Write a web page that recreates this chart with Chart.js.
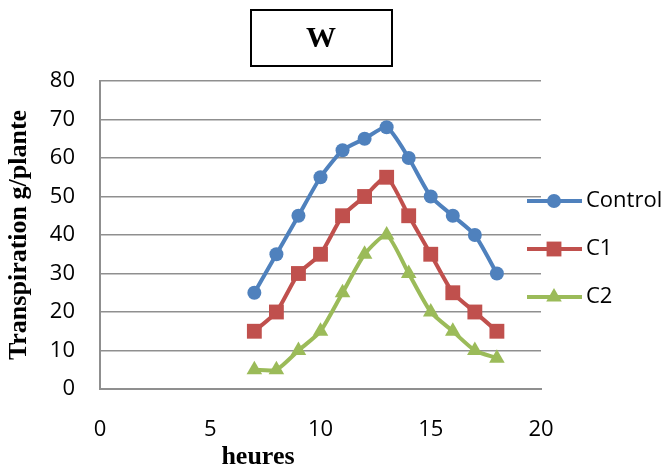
<!DOCTYPE html>
<html>
<head>
<meta charset="utf-8">
<script src="https://cdn.jsdelivr.net/npm/chart.js@4/dist/chart.umd.min.js"></script>
<style>
  html, body { margin: 0; padding: 0; background: #fff; }
  #wrap { width: 670px; height: 474px; }
</style>
</head>
<body>
<div id="wrap"><canvas id="chart" width="670" height="474"></canvas></div>
<script>
// hours of the day and transpiration per plant for each treatment
const hours = [7, 8, 9, 10, 11, 12, 13, 14, 15, 16, 17, 18];
const control = [25, 35, 45, 55, 62, 65, 68, 60, 50, 45, 40, 30];
const c1 = [15, 20, 30, 35, 45, 50, 55, 45, 35, 25, 20, 15];
const c2 = [5, 5, 10, 15, 25, 35, 40, 30, 20, 15, 10, 8];

const seriesNames = ["Control", "C1", "C2"];
const xTicks = [0, 5, 10, 15, 20];
const yTicks = [0, 10, 20, 30, 40, 50, 60, 70, 80];

const BLUE = "#4F81BD";
const RED = "#C0504D";
const GREEN = "#9BBB59";
const GRID = "#8f8f8f";
const SERIF = "'Liberation Serif', 'Times New Roman', serif";
const SANS = "'Open Sans', sans-serif";

function toPoints(values) {
  return values.map((v, i) => ({ x: hours[i], y: v }));
}

function makeSeries(label, values, color, style, radius) {
  return {
    label: label,
    data: toPoints(values),
    borderColor: color,
    backgroundColor: color,
    borderWidth: 4,
    pointStyle: style,
    pointRadius: radius,
    pointHoverRadius: radius,
    pointBorderWidth: 0,
    tension: 0.2,
    fill: false,
  };
}

// boxed title, x axis caption and the legend on the right
const extras = {
  id: "extras",
  afterDraw(chart) {
    const ctx = chart.ctx;
    ctx.save();

    ctx.strokeStyle = "#000";
    ctx.lineWidth = 2;
    ctx.strokeRect(251, 10, 141, 56);
    ctx.fillStyle = "#000";
    ctx.font = "bold 30px " + SERIF;
    ctx.textAlign = "center";
    ctx.textBaseline = "middle";
    ctx.fillText("W", 321, 39);

    ctx.font = "bold 26px " + SERIF;
    ctx.fillText("heures", 258, 457);

    const rows = [201, 249, 297];
    chart.data.datasets.forEach((ds, i) => {
      const y = rows[i];
      ctx.strokeStyle = ds.borderColor;
      ctx.lineWidth = 4;
      ctx.beginPath();
      ctx.moveTo(527, y);
      ctx.lineTo(582, y);
      ctx.stroke();
      ctx.fillStyle = ds.backgroundColor;
      Chart.helpers.drawPoint(ctx, { pointStyle: ds.pointStyle, radius: ds.pointRadius, rotation: 0, borderWidth: 0 }, 554, y);
      ctx.fillStyle = "#000";
      ctx.font = "22px " + SANS;
      ctx.textAlign = "left";
      ctx.textBaseline = "middle";
      ctx.fillText(ds.label, 586, y);
    });

    ctx.restore();
  },
};

new Chart(document.getElementById("chart"), {
  type: "line",
  data: {
    datasets: [
      makeSeries(seriesNames[0], control, BLUE, "circle", 7),
      makeSeries(seriesNames[1], c1, RED, "rect", 10.5),
      makeSeries(seriesNames[2], c2, GREEN, "triangle", 9),
    ],
  },
  options: {
    responsive: false,
    animation: false,
    layout: { padding: { top: 81, right: 129, bottom: 0, left: 0 } },
    plugins: {
      legend: { display: false },
      tooltip: { enabled: false },
    },
    scales: {
      x: {
        type: "linear",
        min: 0,
        max: 20,
        afterBuildTicks: (s) => { s.ticks = xTicks.map((v) => ({ value: v })); },
        afterFit: (s) => { s.height = 85; },
        grid: { display: false, drawTicks: false },
        border: { display: true, color: GRID, width: 2 },
        ticks: { color: "#000", padding: 28, font: { family: SANS, size: 22 } },
      },
      y: {
        min: 0,
        max: 80,
        afterBuildTicks: (s) => { s.ticks = yTicks.map((v) => ({ value: v })); },
        afterFit: (s) => { s.width = 100; },
        grid: { color: GRID, lineWidth: 1.5, drawTicks: false },
        border: { display: true, color: GRID, width: 2 },
        ticks: { color: "#000", padding: 25, font: { family: SANS, size: 22 } },
        title: {
          display: true,
          text: "Transpiration g/plante",
          color: "#000",
          padding: { top: 4, bottom: 0 },
          font: { family: SERIF, size: 26, weight: "bold" },
        },
      },
    },
  },
  plugins: [extras],
});
</script>
</body>
</html>
